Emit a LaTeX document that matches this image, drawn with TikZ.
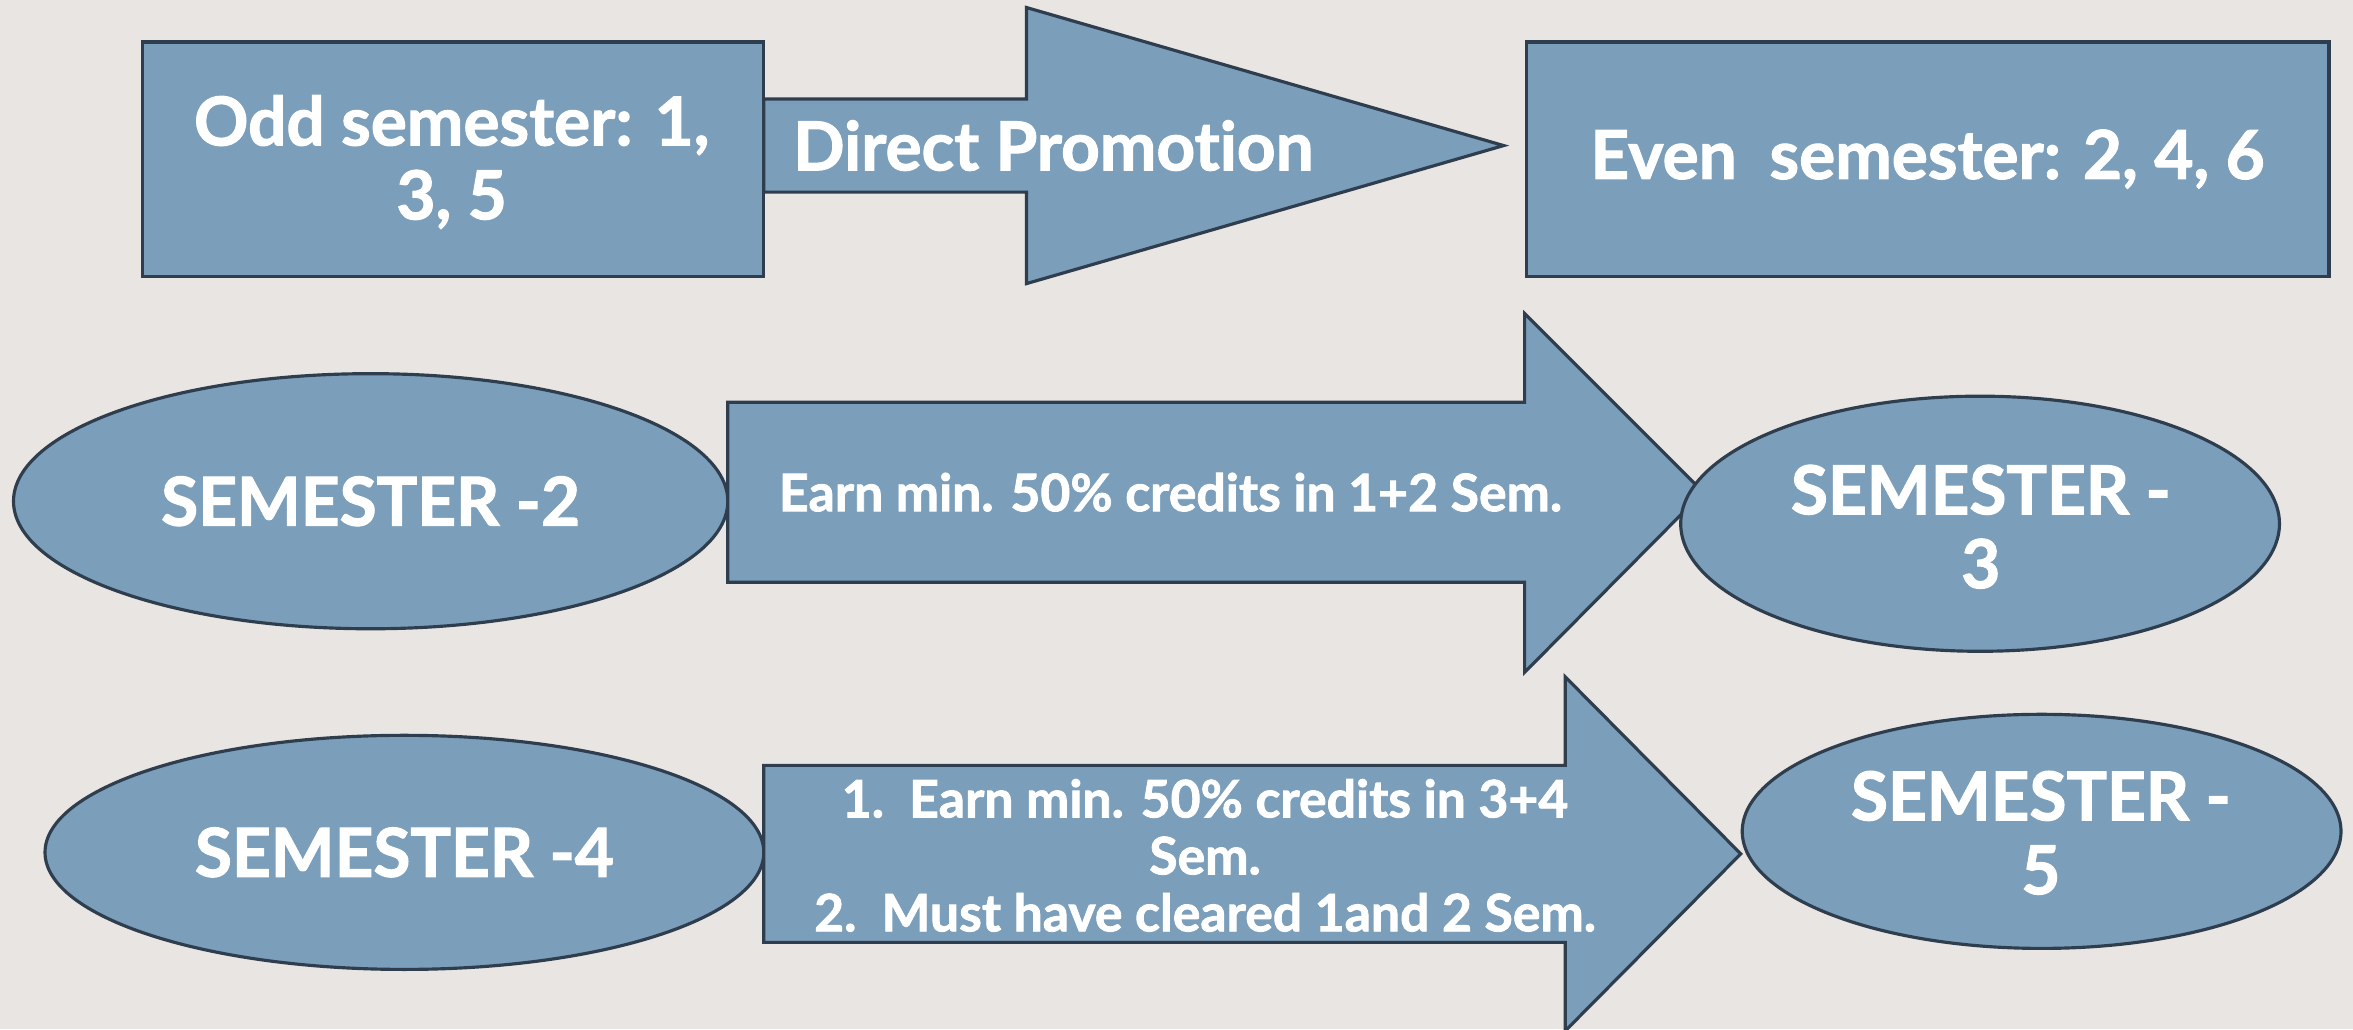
\documentclass[tikz,border=0pt]{standalone}
\usepackage{fontspec}
\setmainfont{Lato}[Ligatures=NoCommon, BoldFeatures={FakeBold=1.6}]
\usepackage{xcolor}
\usetikzlibrary{shapes.geometric, calc}

\definecolor{bgcol}{HTML}{E8E5E2}
\definecolor{boxcol}{HTML}{7B9EBA}
\definecolor{edgecol}{HTML}{2F3E4E}

\tikzset{
	shapebox/.style={draw=edgecol, fill=boxcol, line width=0.6pt},
	bigtxt/.style={text=white, font=\bfseries\fontsize{12.8}{14}\selectfont, align=center},
	smalltxt/.style={text=white, font=\bfseries\fontsize{9.8}{10.8}\selectfont, align=center},
	semrect/.style={shapebox, bigtxt, rectangle, inner sep=0pt},
	semoval/.style={shapebox, bigtxt, ellipse, inner sep=0pt}
}

\begin{document}
\begin{tikzpicture}[x=0.1mm, y=-0.1mm, line cap=round, line join=miter]
	\fill[bgcol] (0,0) rectangle (1568,686);
	\useasboundingbox (0,0) rectangle (1568,686);

	% top row
	\node[semrect, minimum width=41.4mm, minimum height=15.6mm] (odd) at (302,106) {};
	\node[bigtxt] (oddtxt) at (301,108) {Odd semester: 1,\\3, 5};
	\node[semrect, minimum width=53.5mm, minimum height=15.6mm] (even) at (1284.5,106) {Even\ \ semester: 2, 4, 6};

	\coordinate (P1) at (509,66);
	\coordinate (P2) at (684,66);
	\coordinate (P3) at (684,5);
	\coordinate (P4) at (1002,97);
	\coordinate (P5) at (684,189);
	\coordinate (P6) at (684,128);
	\coordinate (P7) at (509,128);
	\draw[shapebox] (P1)--(P2)--(P3)--(P4)--(P5)--(P6)--(P7)--cycle;
	\node[bigtxt] (direct) at (702,97) {Direct Promotion};

	% middle row
	\node[semoval, minimum width=47.6mm, minimum height=17mm] (sem2) at (247,334) {SEMESTER -2};
	\coordinate (Q1) at (485,268);
	\coordinate (Q2) at (1016,268);
	\coordinate (Q3) at (1016,209);
	\coordinate (Q4) at (1135,328);
	\coordinate (Q5) at (1016,448);
	\coordinate (Q6) at (1016,388);
	\coordinate (Q7) at (485,388);
	\draw[shapebox] (Q1)--(Q2)--(Q3)--(Q4)--(Q5)--(Q6)--(Q7)--cycle;
	\node[smalltxt] (rule1) at (780,328) {Earn min. 50\% credits in 1+2 Sem.};
	\node[semoval, minimum width=39.9mm, minimum height=17mm] (sem3) at (1319.5,349) {};
	\node[bigtxt] (sem3txt) at (1320,351) {SEMESTER -\\3};

	% bottom row
	\node[semoval, minimum width=47.9mm, minimum height=15.6mm] (sem4) at (269.5,568) {SEMESTER -4};
	\coordinate (R1) at (509,510);
	\coordinate (R2) at (1043,510);
	\coordinate (R3) at (1043,451);
	\coordinate (R4) at (1160,569);
	\coordinate (R5) at (1043,687);
	\coordinate (R6) at (1043,628);
	\coordinate (R7) at (509,628);
	\draw[shapebox] (R1)--(R2)--(R3)--(R4)--(R5)--(R6)--(R7)--cycle;
	\node[smalltxt] (rule2) at (803,570) {1.\ \ Earn min. 50\% credits in 3+4\\Sem.\\2.\ \ Must have cleared 1and 2 Sem.};
	\node[semoval, minimum width=39.9mm, minimum height=15.6mm] (sem5) at (1360.5,554) {};
	\node[bigtxt] (sem5txt) at (1360,555) {SEMESTER -\\5};
\end{tikzpicture}
\end{document}
